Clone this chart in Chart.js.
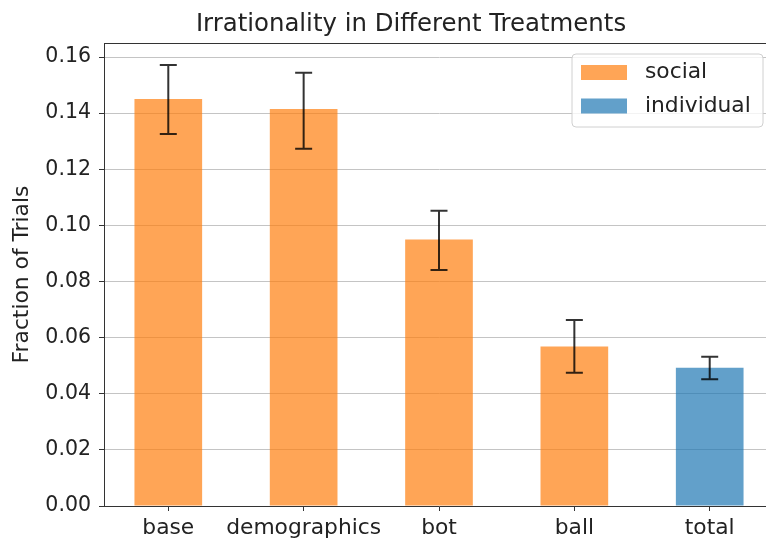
<!DOCTYPE html>
<html>
<head>
<meta charset="utf-8">
<script src="https://cdn.jsdelivr.net/npm/chart.js@4.4.0/dist/chart.umd.min.js"></script>
<style>
  html, body { margin: 0; padding: 0; background: #fff; overflow: hidden; }
  #wrap { width: 776px; height: 542px; }
</style>
</head>
<body>
<div id="wrap"><canvas id="chart" width="776" height="542"></canvas></div>
<script>
// data
var categories = ['base', 'demographics', 'bot', 'ball', 'total'];
var socialVals = [0.145, 0.1415, 0.095, 0.0568, null];
var individualVals = [null, null, null, null, 0.0493];
var errLow = [0.1326, 0.1273, 0.0841, 0.0475, 0.0452];
var errHigh = [0.1572, 0.1544, 0.1052, 0.0663, 0.0532];
var yTicks = [0, 0.02, 0.04, 0.06, 0.08, 0.10, 0.12, 0.14, 0.16];
var seriesNames = ['social', 'individual'];
var chartTitle = 'Irrationality in Different Treatments';
var yLabel = 'Fraction of Trials';

var orange = 'rgba(255,127,14,0.7)';
var blue = 'rgba(31,119,180,0.7)';
var fontFam = '"DejaVu Sans", sans-serif';
var txtColor = '#222';
var spine = '#333';

function toPoints(vals) {
  var pts = [];
  for (var i = 0; i < vals.length; i++) {
    if (vals[i] != null) pts.push({x: i, y: vals[i]});
  }
  return pts;
}

// error bars, top spine, title and legend box
var extras = {
  id: 'extras',
  afterDatasetsDraw: function(chart) {
    var ctx = chart.ctx, xs = chart.scales.x, ys = chart.scales.y;
    ctx.save();
    ctx.strokeStyle = 'rgba(0,0,0,0.8)';
    ctx.lineWidth = 2;
    for (var i = 0; i < categories.length; i++) {
      var x = xs.getPixelForValue(i);
      var y1 = ys.getPixelForValue(errLow[i]);
      var y2 = ys.getPixelForValue(errHigh[i]);
      ctx.beginPath();
      ctx.moveTo(x, y1); ctx.lineTo(x, y2);
      ctx.moveTo(x - 8.5, y1); ctx.lineTo(x + 8.5, y1);
      ctx.moveTo(x - 8.5, y2); ctx.lineTo(x + 8.5, y2);
      ctx.stroke();
    }
    ctx.restore();
  },
  afterDraw: function(chart) {
    var ctx = chart.ctx, a = chart.chartArea;
    ctx.save();
    // top spine
    ctx.strokeStyle = spine;
    ctx.lineWidth = 1;
    ctx.beginPath();
    ctx.moveTo(a.left, a.top + 0.5); ctx.lineTo(a.right, a.top + 0.5);
    ctx.stroke();

    // title
    ctx.fillStyle = txtColor;
    ctx.font = '24.4px ' + fontFam;
    ctx.textAlign = 'center';
    ctx.textBaseline = 'alphabetic';
    ctx.fillText(chartTitle, 411, 31);

    // legend
    var lx = 572, ly = 54, lw = 191, lh = 73, r = 4;
    ctx.beginPath();
    ctx.moveTo(lx + r, ly);
    ctx.arcTo(lx + lw, ly, lx + lw, ly + lh, r);
    ctx.arcTo(lx + lw, ly + lh, lx, ly + lh, r);
    ctx.arcTo(lx, ly + lh, lx, ly, r);
    ctx.arcTo(lx, ly, lx + lw, ly, r);
    ctx.closePath();
    ctx.fillStyle = 'rgba(255,255,255,0.8)';
    ctx.fill();
    ctx.strokeStyle = '#d0d0d0';
    ctx.stroke();
    var cols = [orange, blue];
    ctx.font = '21.8px ' + fontFam;
    ctx.textAlign = 'left';
    ctx.textBaseline = 'middle';
    for (var k = 0; k < seriesNames.length; k++) {
      var cy = 72.5 + k * 33.5;
      ctx.fillStyle = cols[k];
      ctx.fillRect(581, cy - 7.5, 46, 15);
      ctx.fillStyle = txtColor;
      ctx.fillText(seriesNames[k], 645, cy);
    }
    ctx.restore();
  }
};

var ctx = document.getElementById('chart');
var myChart = new Chart(ctx, {
  type: 'bar',
  data: {
    datasets: [
      {label: seriesNames[0], data: toPoints(socialVals), backgroundColor: orange, borderWidth: 0},
      {label: seriesNames[1], data: toPoints(individualVals), backgroundColor: blue, borderWidth: 0}
    ]
  },
  options: {
    responsive: false,
    animation: false,
    devicePixelRatio: 1,
    grouped: false,
    barPercentage: 0.5,
    categoryPercentage: 1,
    layout: { padding: { top: 43, right: 2, left: 0, bottom: 0 } },
    plugins: {
      legend: { display: false },
      title: { display: false },
      tooltip: { enabled: false }
    },
    scales: {
      x: {
        type: 'linear',
        offset: false,
        min: -0.475,
        max: 4.475,
        afterBuildTicks: function(scale) {
          scale.ticks = categories.map(function(c, i) { return {value: i}; });
        },
        afterFit: function(scale) { scale.height = 36; },
        ticks: {
          callback: function(v) { return categories[v]; },
          color: txtColor,
          font: { family: fontFam, size: 21.8 },
          padding: 4,
          maxRotation: 0,
          autoSkip: false
        },
        grid: { offset: false, drawOnChartArea: false, drawTicks: true, tickLength: 5, tickColor: spine },
        border: { color: spine, width: 1 }
      },
      y: {
        min: 0,
        max: 0.165,
        afterBuildTicks: function(scale) {
          scale.ticks = yTicks.map(function(v) { return {value: v}; });
        },
        afterFit: function(scale) { scale.width = 104; },
        ticks: {
          callback: function(v) { return v.toFixed(2); },
          color: txtColor,
          font: { family: fontFam, size: 20.5 },
          padding: 8
        },
        grid: { color: '#c4c4c4', lineWidth: 1, tickLength: 5, tickColor: spine },
        border: { color: spine, width: 1 },
        title: {
          display: true,
          text: yLabel,
          color: txtColor,
          font: { family: fontFam, size: 21.8 },
          padding: { top: 9, bottom: 0 }
        }
      }
    }
  },
  plugins: [extras]
});
</script>
</body>
</html>
